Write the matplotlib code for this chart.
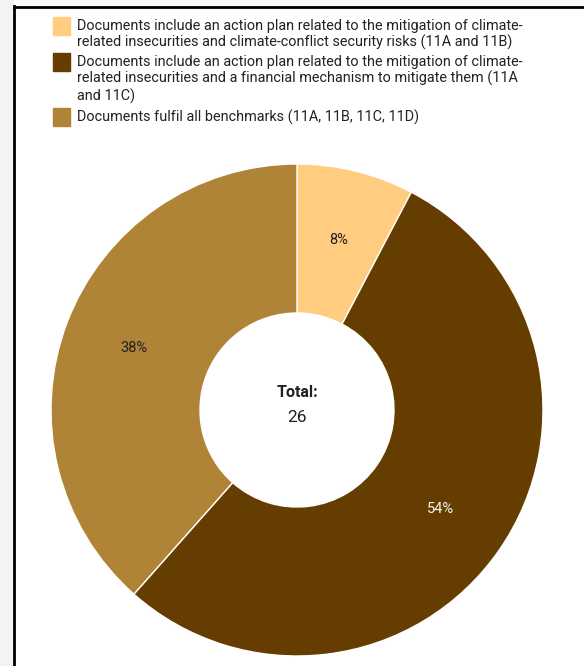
import matplotlib.pyplot as plt
from matplotlib.patches import Rectangle

plt.rcParams['font.family'] = ['Roboto', 'DejaVu Sans']

# documents per category (total 26)
labels = [
    "Documents include an action plan related to the mitigation of climate-\nrelated insecurities and climate-conflict security risks (11A and 11B)",
    "Documents include an action plan related to the mitigation of climate-\nrelated insecurities and a financial mechanism to mitigate them (11A\nand 11C)",
    "Documents fulfil all benchmarks (11A, 11B, 11C, 11D)",
]
counts = [2, 14, 10]
colors = ["#FFCC80", "#663D00", "#B08436"]
pct_colors = ["#222222", "#f2f2f2", "#222222"]

W, H = 584, 666
fig = plt.figure(figsize=(W / 100, H / 100), dpi=100)

# grey strip and frame
fig.add_artist(Rectangle((0, 0), 13 / W, 1, transform=fig.transFigure, color="#f3f3f3", zorder=0))
fig.add_artist(plt.Line2D([13.5 / W, 13.5 / W], [0, 1 - 6 / H], transform=fig.transFigure, color="black", lw=2))
fig.add_artist(plt.Line2D([13.5 / W, 1], [1 - 6.5 / H, 1 - 6.5 / H], transform=fig.transFigure, color="black", lw=2))

# legend drawn by hand so squares sit on first line
line_mid = [26, 62, 117]
for lab, c, m in zip(labels, colors, line_mid):
    fig.add_artist(Rectangle((53 / W, 1 - (m + 8.5) / H), 17 / W, 17 / H,
                             transform=fig.transFigure, color=c))
    fig.text(77 / W, 1 - (m - 7) / H, lab, ha="left", va="top", fontsize=10.4,
             color="#222222", linespacing=1.17)

# donut
cx, cy, R = 297, 410, 246
pad = 252
ax = fig.add_axes([(cx - pad) / W, (H - cy - pad) / H, 2 * pad / W, 2 * pad / H])
wedges, texts, autotexts = ax.pie(counts, colors=colors, startangle=90, counterclock=False,
                                  autopct=lambda p: "%d%%" % round(p), pctdistance=0.71,
                                  radius=1, wedgeprops=dict(width=1 - 97 / R, edgecolor="white", linewidth=1))
for t, c in zip(autotexts, pct_colors):
    t.set_color(c)
    t.set_fontsize(10.5)
lim = pad / R
ax.set_xlim(-lim, lim)
ax.set_ylim(-lim, lim)
ax.set_aspect("equal")
ax.axis("off")

ax.text(0, 0.07, "Total:", ha="center", va="center", fontsize=11.5, fontweight="bold", color="#222222")
ax.text(0, -0.03, str(sum(counts)), ha="center", va="center", fontsize=12.5, color="#222222")

fig.savefig("out.png", dpi=100)
